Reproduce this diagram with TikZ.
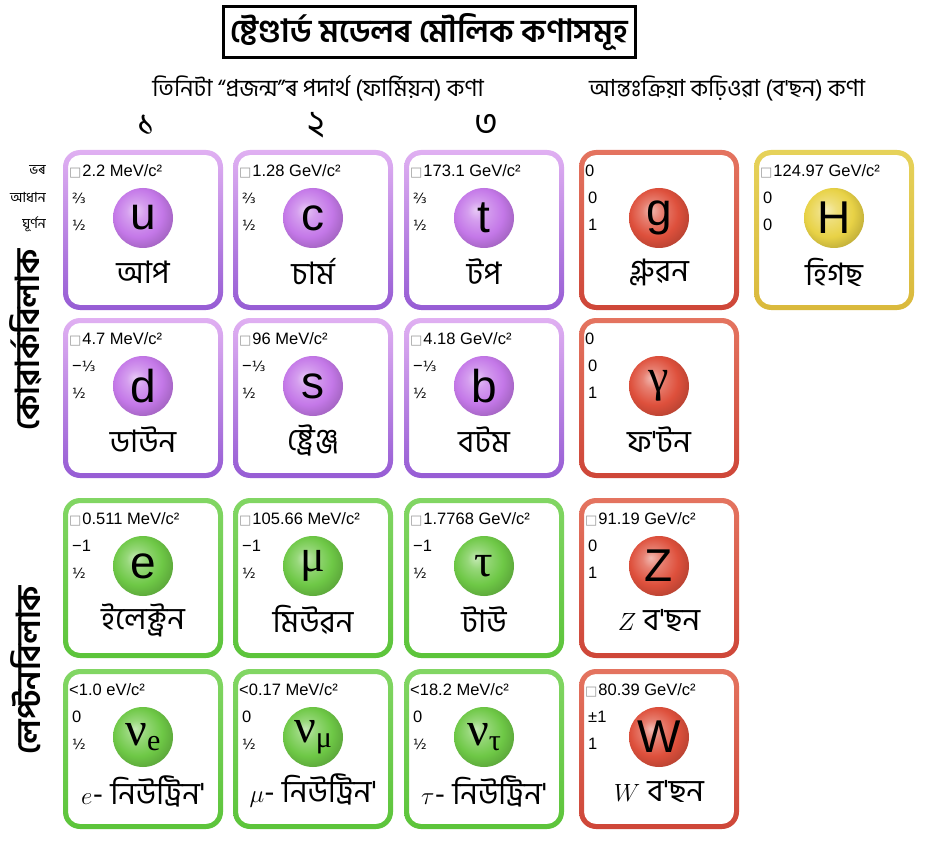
\documentclass[tikz,border=0pt]{standalone}
\usepackage{fontspec}
\setmainfont{Liberation Sans}
\newfontfamily\bn[Script=Bengali]{Hind Siliguri}
\newfontfamily\bnb[Script=Bengali]{Hind Siliguri SemiBold}
\newfontfamily\djv{DejaVu Sans}
\newfontfamily\srf{Liberation Serif}
\definecolor{qtop}{RGB}{224,176,242}
\definecolor{qbot}{RGB}{150,92,212}
\definecolor{qball}{RGB}{196,120,232}
\definecolor{ltop}{RGB}{130,214,100}
\definecolor{lbot}{RGB}{92,196,58}
\definecolor{lball}{RGB}{110,200,70}
\definecolor{gtop}{RGB}{228,116,96}
\definecolor{gbot}{RGB}{206,70,56}
\definecolor{gball}{RGB}{222,80,60}
\definecolor{htop}{RGB}{230,210,90}
\definecolor{hbot}{RGB}{218,185,60}
\definecolor{hball}{RGB}{232,210,70}
\colorlet{pball}{qball}
\colorlet{ctop}{qtop}
\colorlet{cbot}{qbot}
\pgfdeclareradialshading[pball]{softball}{\pgfpoint{-7bp}{7bp}}{color(0bp)=(pball!40!white); color(8bp)=(pball!72!white); color(20bp)=(pball); color(30bp)=(pball!82!black); color(50bp)=(pball!82!black)}
\newcommand\bx{\textcolor{black!40}{\djv\fontsize{13}{13}\selectfont □}\kern1pt}
\newcommand\fracTT{{\djv\fontsize{14}{14}\selectfont ⅔}}
\newcommand\fracOT{−{\djv\fontsize{14}{14}\selectfont ⅓}}
\newcommand\fracH{{\djv\fontsize{14}{14}\selectfont ½}}
\newcommand\nusym[1]{{\srf\fontsize{48}{48}\selectfont ν\raisebox{-5pt}{\fontsize{30}{30}\selectfont #1}}}
\newcommand\ptc[9]{%
\begin{scope}[shift={(#2,#3)}]
\colorlet{ctop}{#4top}\colorlet{cbot}{#4bot}\colorlet{pball}{#4ball}
\shade[top color=ctop, bottom color=cbot, even odd rule] [rounded corners=17pt] (0,0) rectangle (160,160) [rounded corners=12pt] (5,5) rectangle (155,155);
\node[data, anchor=west] (#1-m) at (6,21) {#5};
\node[data, anchor=west] (#1-q) at (9,48) {#6};
\node[data, anchor=west] (#1-s) at (9,75) {#7};
\node[ball] (#1) at (80,68) {#8};
\node[pname] (#1-n) at (80,122) {#9};
\end{scope}}
\begin{document}
\begin{tikzpicture}[x=1pt,y=-1pt,
  data/.style={font=\fontsize{16.5}{16.5}\selectfont, inner sep=0pt},
  ball/.style={circle, minimum size=60pt, inner sep=0pt, shading=softball, font=\fontsize{46}{46}\selectfont},
  pname/.style={font=\bn\fontsize{31}{34}\selectfont, inner sep=0pt},
  rowlab/.style={font=\bn\fontsize{14}{14}\selectfont, inner sep=0pt, anchor=east},
  head/.style={font=\bn\fontsize{23.5}{26}\selectfont, inner sep=0pt},
  gen/.style={font=\bn\fontsize{36}{36}\selectfont, inner sep=0pt},
  side/.style={font=\bnb\fontsize{33}{33}\selectfont, inner sep=0pt, rotate=90}]
\useasboundingbox (0,0) rectangle (948,845);
\fill[white] (0,0) rectangle (948,845);
% title
\node[draw, line width=3pt, minimum width=412pt, minimum height=51pt, inner sep=0pt, font=\bnb\fontsize{32}{34}\selectfont] (title) at (429,32) {ষ্টেণ্ডাৰ্ড মডেলৰ মৌলিক কণাসমূহ};
% headers
\node[head] (hf) at (318,88) {তিনিটা “প্ৰজন্ম”ৰ পদাৰ্থ (ফাৰ্মিয়ন) কণা};
\node[head] (hb) at (727,88) {আন্তঃক্ৰিয়া কঢ়িওৱা (ব'ছন) কণা};
\node[gen] (g1) at (146,125) {১};
\node[gen] (g2) at (316,125) {২};
\node[gen] (g3) at (486,125) {৩};
% row labels
\node[rowlab] (lmass) at (46,170) {ভৰ};
\node[rowlab] (lcharge) at (46,197) {আধান};
\node[rowlab] (lspin) at (46,224) {ঘূৰ্ণন};
% side labels
\node[side] (quarks) at (26,340) {কোৱাৰ্কবিলাক};
\node[side] (leptons) at (26,670) {লেপ্টনবিলাক};
% particles
\ptc{u}{63}{150}{q}{\bx 2.2 MeV/c²}{\fracTT}{\fracH}{u}{আপ}
\ptc{c}{233}{150}{q}{\bx 1.28 GeV/c²}{\fracTT}{\fracH}{c}{চাৰ্ম}
\ptc{t}{404}{150}{q}{\bx 173.1 GeV/c²}{\fracTT}{\fracH}{t}{টপ}
\ptc{g}{579}{150}{g}{0}{0}{1}{g}{গ্লুৱন}
\ptc{H}{754}{150}{h}{\bx 124.97 GeV/c²}{0}{0}{H}{হিগছ}
\ptc{d}{63}{318}{q}{\bx 4.7 MeV/c²}{\fracOT}{\fracH}{d}{ডাউন}
\ptc{s}{233}{318}{q}{\bx 96 MeV/c²}{\fracOT}{\fracH}{s}{ষ্ট্ৰেঞ্জ}
\ptc{b}{404}{318}{q}{\bx 4.18 GeV/c²}{\fracOT}{\fracH}{b}{বটম}
\ptc{gamma}{579}{318}{g}{0}{0}{1}{{\srf γ}}{ফ'টন}
\ptc{e}{63}{498}{l}{\bx 0.511 MeV/c²}{−1}{\fracH}{e}{ইলেক্ট্ৰন}
\ptc{mu}{233}{498}{l}{\bx 105.66 MeV/c²}{−1}{\fracH}{{\srf μ}}{মিউৱন}
\ptc{tau}{404}{498}{l}{\bx 1.7768 GeV/c²}{−1}{\fracH}{{\srf τ}}{টাউ}
\ptc{Z}{579}{498}{g}{\bx 91.19 GeV/c²}{0}{1}{Z}{$Z$ ব'ছন}
\ptc{nue}{63}{669}{l}{<1.0 eV/c²}{0}{\fracH}{\nusym{e}}{$e$- নিউট্ৰিন'}
\ptc{numu}{233}{669}{l}{<0.17 MeV/c²}{0}{\fracH}{\nusym{μ}}{$\mu$- নিউট্ৰিন'}
\ptc{nutau}{404}{669}{l}{<18.2 MeV/c²}{0}{\fracH}{\nusym{τ}}{$\tau$- নিউট্ৰিন'}
\ptc{W}{579}{669}{g}{\bx 80.39 GeV/c²}{±1}{1}{W}{$W$ ব'ছন}
\end{tikzpicture}
\end{document}
